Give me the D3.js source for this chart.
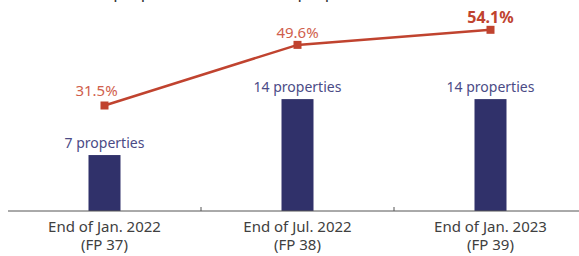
<!DOCTYPE html>
<html>
<head>
<meta charset="utf-8">
<script src="https://cdn.jsdelivr.net/npm/d3@7"></script>
<style>
  html, body { margin: 0; padding: 0; background: #fff; }
  svg { display: block; font-family: "Noto Sans", "Open Sans", sans-serif; }
</style>
</head>
<body>
<div id="chart"></div>
<script>
// data
const periods = ['End of Jan. 2022', 'End of Jul. 2022', 'End of Jan. 2023'];
const fiscal = ['(FP 37)', '(FP 38)', '(FP 39)'];
const properties = [7, 14, 14];
const ratio = [31.5, 49.6, 54.1];

const width = 579, height = 256;
const baseY = 211;

const svg = d3.select('#chart').append('svg')
    .attr('width', width)
    .attr('height', height);

// title, cut off at the top edge like in the source picture
svg.append('text')
    .attr('x', 22).attr('y', -2)
    .attr('font-size', 17).attr('fill', '#333')
    .text('Number of properties and ratio of properties certified');

const x = d3.scaleBand().domain(periods).range([8, 587]);
const yBar = d3.scaleLinear().domain([0, 26.4]).range([baseY, 0]);
const yLine = d3.scaleLinear().domain([0, 63]).range([baseY, 0]);

const barW = 32;
const cx = d => x(d) + x.bandwidth() / 2;

// bars
svg.selectAll('rect.bar').data(periods).join('rect')
    .attr('class', 'bar')
    .attr('x', d => cx(d) - barW / 2)
    .attr('width', barW)
    .attr('y', (d, i) => yBar(properties[i]))
    .attr('height', (d, i) => baseY - yBar(properties[i]))
    .attr('fill', '#30316a');

svg.selectAll('text.blab').data(periods).join('text')
    .attr('class', 'blab')
    .attr('x', d => cx(d))
    .attr('y', (d, i) => yBar(properties[i]) - 7)
    .attr('text-anchor', 'middle')
    .attr('font-size', 14)
    .attr('fill', '#4b4b86')
    .text((d, i) => properties[i] + ' properties');

// axis
const axis = svg.append('g');
axis.append('line')
    .attr('x1', 8).attr('x2', width)
    .attr('y1', baseY).attr('y2', baseY)
    .attr('stroke', '#555').attr('stroke-width', 1);
axis.selectAll('line.tick').data(periods.slice(1)).join('line')
    .attr('class', 'tick')
    .attr('x1', d => x(d)).attr('x2', d => x(d))
    .attr('y1', baseY - 4).attr('y2', baseY)
    .attr('stroke', '#555');
axis.selectAll('text.xlab').data(periods).join('text')
    .attr('class', 'xlab')
    .attr('x', d => cx(d)).attr('y', 232)
    .attr('text-anchor', 'middle')
    .attr('font-size', 15)
    .attr('fill', '#404040')
    .text(d => d);
axis.selectAll('text.fp').data(periods).join('text')
    .attr('class', 'fp')
    .attr('x', d => cx(d)).attr('y', 250)
    .attr('text-anchor', 'middle')
    .attr('font-size', 15)
    .attr('fill', '#404040')
    .text((d, i) => fiscal[i]);

// line
const line = d3.line()
    .x(d => cx(d))
    .y((d, i) => yLine(ratio[i]));
svg.append('path')
    .datum(periods)
    .attr('d', line)
    .attr('fill', 'none')
    .attr('stroke', '#c0432f')
    .attr('stroke-width', 2.5);

svg.selectAll('rect.mk').data(periods).join('rect')
    .attr('class', 'mk')
    .attr('x', d => cx(d) - 4)
    .attr('y', (d, i) => yLine(ratio[i]) - 4)
    .attr('width', 8).attr('height', 8)
    .attr('fill', '#c0432f');

svg.selectAll('text.rlab').data(periods).join('text')
    .attr('class', 'rlab')
    .attr('x', (d, i) => cx(d) + (i === 0 ? -8 : 0))
    .attr('y', (d, i) => yLine(ratio[i]) - (i === 0 ? 10 : 7))
    .attr('text-anchor', 'middle')
    .attr('font-size', (d, i) => i === 2 ? 16 : 15)
    .attr('font-weight', (d, i) => i === 2 ? 'bold' : 'normal')
    .attr('fill', (d, i) => i === 2 ? '#c0432f' : '#d0604c')
    .text((d, i) => ratio[i].toFixed(1) + '%');
</script>
</body>
</html>
